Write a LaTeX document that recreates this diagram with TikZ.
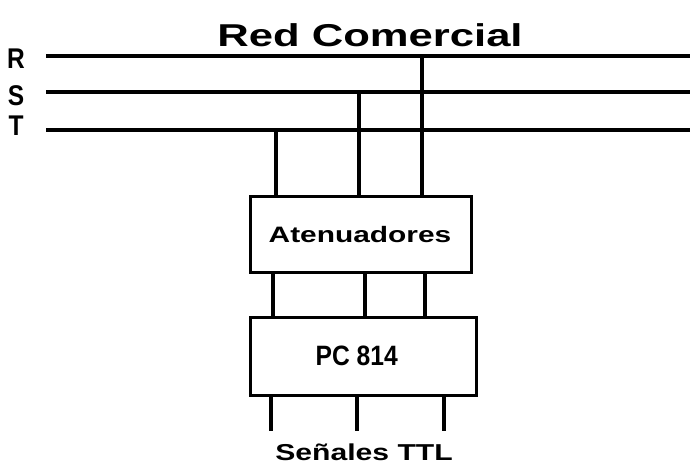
\documentclass[tikz,border=0pt]{standalone}
\usepackage{fontspec}
\usepackage{graphicx}
\setmainfont{Liberation Sans}
\begin{document}
\begin{tikzpicture}[x=1pt,y=-1pt,
  wire/.style={line width=3.2pt, black},
  bus/.style={line width=3.6pt, black},
  blk/.style={draw, line width=3pt, fill=white, inner sep=0pt},
  lbl/.style={inner sep=0pt, anchor=base}
]
\useasboundingbox (0,0) rectangle (690,464);
% title
\node[lbl] (title) at (370,46) {\bfseries\fontsize{31.6}{32}\selectfont\scalebox{1.38}[1]{Red Comercial}};
% phase labels
\node[lbl] (lR) at (16,68.5) {\bfseries\fontsize{28.5}{28}\selectfont\scalebox{0.86}[1]{R}};
\node[lbl] (lS) at (16,105) {\bfseries\fontsize{28.5}{28}\selectfont\scalebox{0.86}[1]{S}};
\node[lbl] (lT) at (16,135) {\bfseries\fontsize{28.5}{28}\selectfont\scalebox{0.86}[1]{T}};
% bus lines
\coordinate (R0) at (46,56);  \coordinate (R1) at (690,56);
\coordinate (S0) at (46,92);  \coordinate (S1) at (690,92);
\coordinate (T0) at (46,130); \coordinate (T1) at (690,130);
\draw[bus] (R0) -- (R1);
\draw[bus] (S0) -- (S1);
\draw[bus] (T0) -- (T1);
% blocks
\node[blk, minimum width=221pt, minimum height=76.7pt] (A) at (361.4,234.4) {};
\node[lbl] (At) at (360,242.7) {\bfseries\fontsize{22.3}{23}\selectfont\scalebox{1.34}[1]{Atenuadores}};
\node[blk, minimum width=226pt, minimum height=78.7pt] (P) at (363.9,356.4) {};
\node[lbl] (Pt) at (356.7,365) {\bfseries\fontsize{28}{28}\selectfont\scalebox{0.88}[1]{PC 814}};
% drops from bus
\coordinate (dT) at (276,130);
\coordinate (dS) at (359,92);
\coordinate (dR) at (422,56);
\draw[wire] (dT) -- (dT |- A.north);
\draw[wire] (dS) -- (dS |- A.north);
\draw[wire] (dR) -- (dR |- A.north);
% between blocks
\draw[wire] ([xshift=-88.4pt]A.south) -- ([xshift=-88.4pt]A.south |- P.north);
\draw[wire] ([xshift=3.6pt]A.south) -- ([xshift=3.6pt]A.south |- P.north);
\draw[wire] ([xshift=63.6pt]A.south) -- ([xshift=63.6pt]A.south |- P.north);
% outputs
\coordinate (o1) at (271,431);
\coordinate (o2) at (357,431);
\coordinate (o3) at (444,431);
\draw[wire] (o1 |- P.south) -- (o1);
\draw[wire] (o2 |- P.south) -- (o2);
\draw[wire] (o3 |- P.south) -- (o3);
\node[lbl] (ttl) at (364,460) {\bfseries\fontsize{23}{24}\selectfont\scalebox{1.31}[1]{Señales TTL}};
\end{tikzpicture}
\end{document}
